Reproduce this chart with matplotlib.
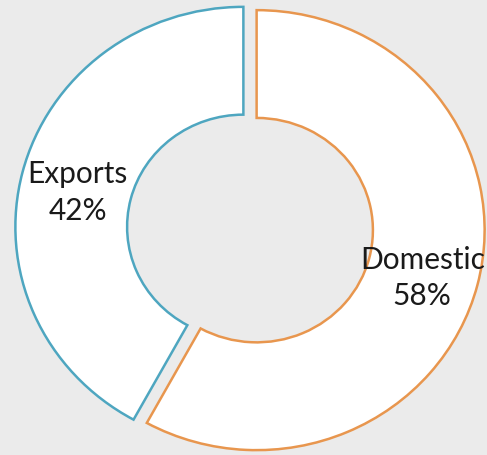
import matplotlib.pyplot as plt
import numpy as np

# Dati
labels = ["Domestic", "Exports"]
shares = [58, 42]
edge_colors = ["#e8964e", "#4ea6c0"]
label_radius = [0.78, 0.78]

bg = "#ebebeb"

fig = plt.figure(figsize=(4.87, 4.55), dpi=100, facecolor=bg)
ax = fig.add_axes([0, 0, 1, 1])
ax.set_facecolor(bg)

wedges, _ = ax.pie(shares,
                   startangle=90, counterclock=False,
                   colors=["white", "white"],
                   explode=[0.03, 0.03],
                   wedgeprops=dict(width=0.49, linewidth=1.8))
for w, c in zip(wedges, edge_colors):
    w.set_edgecolor(c)

# etichette al centro dello spicchio (un po' più in basso)
for w, lab, val, r in zip(wedges, labels, shares, label_radius):
    ang = np.deg2rad((w.theta1 + w.theta2) / 2)
    ax.annotate(f"{lab}\n{val}%", xy=(r * np.cos(ang), r * np.sin(ang)),
                xytext=(0, -5), textcoords="offset points",
                ha="center", va="center", fontsize=21.5, family="Lato",
                color="#1a1a1a", linespacing=1.38)

# ciambella leggermente allargata in orizzontale come nell'originale
cx, cy = 250, 228.5
sx, sy = 228, 220
ax.set_xlim(-cx / sx, (487 - cx) / sx)
ax.set_ylim(-(455 - cy) / sy, cy / sy)
ax.set_aspect("auto")
ax.axis("off")

fig.savefig("out.png", dpi=100, facecolor=bg)
